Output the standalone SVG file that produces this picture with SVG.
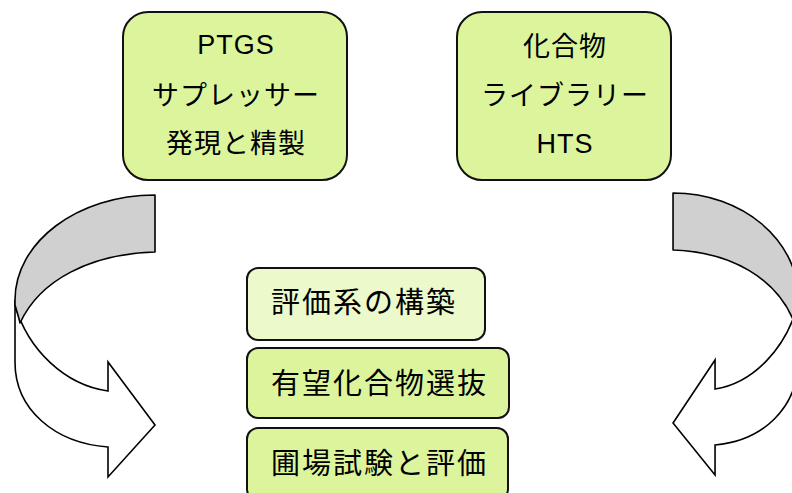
<svg xmlns="http://www.w3.org/2000/svg" width="792" height="493" viewBox="0 0 792 493">
<style>
.box{fill:#dcf59c;stroke:#111;stroke-width:2}
.light{fill:#ebf9cb}
.t{font-family:"Liberation Sans","Noto Sans CJK JP",sans-serif;font-size:27px;fill:#000;letter-spacing:1px;text-anchor:middle}
.b{font-family:"Liberation Sans","Noto Sans CJK JP",sans-serif;font-size:29px;fill:#000;letter-spacing:2px}
.back{fill:#d0d0d0;stroke:#000;stroke-width:1.6;stroke-linejoin:round}
.front{fill:#fff;stroke:#000;stroke-width:1.6;stroke-linejoin:miter}
</style>
<defs>
<g id="curl">
<path class="front" vector-effect="non-scaling-stroke" d="M15,300 L15,362 C15,410 55,443 108,447 L108,477 L155,425 L108,362 L108,391 C65,385 28,350 15,305 Z"/>
<path class="back" vector-effect="non-scaling-stroke" d="M155,195 C77.7,195 15,242 15,300 L15,305 C17,312 19,318 20,323 C40,280 90,254 155,252 Z"/>
</g>
</defs>
<g id="connectors">
<use id="arrow-left" href="#curl"/>
<use id="arrow-right" href="#curl" transform="matrix(-0.894 0 0 1 811.6 -2)"/>
</g>
<g id="node-ptgs">
<rect class="box" x="123" y="12" width="224" height="168" rx="25"/>
<text class="t" x="236" y="54">PTGS</text>
<text class="t" x="236" y="105">サプレッサー</text>
<text class="t" x="236" y="153">発現と精製</text>
</g>
<g id="node-hts">
<rect class="box" x="457" y="12" width="214" height="168" rx="25"/>
<text class="t" x="565" y="56">化合物</text>
<text class="t" x="565" y="105">ライブラリー</text>
<text class="t" x="565" y="153">HTS</text>
</g>
<g id="node-eval">
<rect class="box light" x="247" y="268" width="238" height="72" rx="11"/>
<text class="b" x="271" y="313">評価系の構築</text>
</g>
<g id="node-select">
<rect class="box" x="247" y="348" width="262" height="70" rx="11"/>
<text class="b" x="271" y="394">有望化合物選抜</text>
</g>
<g id="node-field">
<rect class="box" x="247" y="428" width="261" height="72" rx="11"/>
<text class="b" x="271" y="474">圃場試験と評価</text>
</g>
</svg>
